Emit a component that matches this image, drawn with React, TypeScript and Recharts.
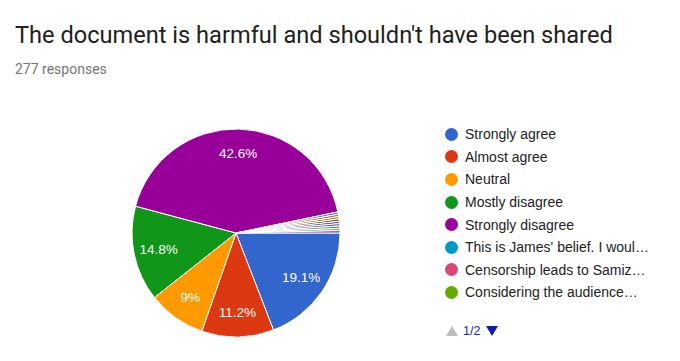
import React from "react";
import { PieChart, Pie, Cell } from "recharts";

const categories = [
  "Strongly agree",
  "Almost agree",
  "Neutral",
  "Mostly disagree",
  "Strongly disagree",
  "This is James' belief. I woul…",
  "Censorship leads to Samiz…",
  "Considering the audience…",
  "Other 9",
  "Other 10",
  "Other 11",
  "Other 12",
  "Other 13",
  "Other 14",
];
const counts = [53, 31, 25, 41, 118, 1, 1, 1, 1, 1, 1, 1, 1, 1];
const colors = [
  "#3366cc", "#dc3912", "#ff9900", "#109618", "#990099", "#0099c6", "#dd4477",
  "#66aa00", "#b82e2e", "#316395", "#994499", "#22aa99", "#aaaa11", "#6633cc",
];
const total = 277;
const legendPageSize = 8;

const data = categories.map((name, i) => ({ name, value: counts[i] }));

const RAD = Math.PI / 180;

function renderLabel(props: any) {
  const { cx, cy, midAngle, outerRadius, value } = props;
  const pct = (value / total) * 100;
  if (pct < 5) return null;
  const r = outerRadius * 0.76;
  const x = cx + r * Math.cos(-midAngle * RAD);
  const y = cy + r * Math.sin(-midAngle * RAD);
  const txt = Number.isInteger(Math.round(pct * 10) / 10) ? `${Math.round(pct)}%` : `${pct.toFixed(1)}%`;
  return (
    <text x={x} y={y} fill="#fff" fontSize={13.5} fontFamily="Arial, 'Liberation Sans'" textAnchor="middle" dominantBaseline="central">
      {txt}
    </text>
  );
}

function LegendBox() {
  const items = data.slice(0, legendPageSize);
  return (
    <div style={{ position: "absolute", left: 445, top: 123, fontFamily: "Arial, 'Liberation Sans'", fontSize: 14, color: "#222" }}>
      {items.map((d, i) => (
        <div key={d.name} style={{ display: "flex", alignItems: "center", height: 22.6, whiteSpace: "nowrap" }}>
          <span style={{ width: 13, height: 13, borderRadius: "50%", background: colors[i], display: "inline-block", marginRight: 7 }} />
          <span>{d.name}</span>
        </div>
      ))}
      <div style={{ display: "flex", alignItems: "center", marginTop: 19, height: 16 }}>
        <svg width={14} height={12} style={{ marginRight: 4 }}>
          <polygon points="7,1 13,11 1,11" fill="#bdbdbd" />
        </svg>
        <span style={{ color: "#2222bb", fontSize: 12.5 }}>1/2</span>
        <svg width={14} height={12} style={{ marginLeft: 5 }}>
          <polygon points="1,1 13,1 7,11" fill="#0b1fae" />
        </svg>
      </div>
    </div>
  );
}

export default function App() {
  return (
    <div style={{ position: "absolute", left: 0, top: 0, width: 680, height: 361, background: "#fff" }}>
      <div style={{ position: "absolute", left: 15, top: 21, fontFamily: "Roboto", fontSize: 23.6, color: "#212121", whiteSpace: "nowrap" }}>
        The document is harmful and shouldn't have been shared
      </div>
      <div style={{ position: "absolute", left: 15, top: 61, fontFamily: "Roboto", fontSize: 14, color: "#757575" }}>
        {total} responses
      </div>
      <div style={{ position: "absolute", left: 0, top: 0 }}>
        <PieChart width={680} height={361} margin={{ top: 0, right: 0, bottom: 0, left: 0 }}>
          <Pie
            data={data}
            dataKey="value"
            nameKey="name"
            cx={236}
            cy={233}
            outerRadius={104}
            startAngle={0}
            endAngle={-360}
            stroke="#fff"
            strokeWidth={1}
            label={renderLabel}
            labelLine={false}
            isAnimationActive={false}
          >
            {data.map((d, i) => (
              <Cell key={d.name} fill={colors[i]} />
            ))}
          </Pie>
        </PieChart>
      </div>
      <LegendBox />
    </div>
  );
}
